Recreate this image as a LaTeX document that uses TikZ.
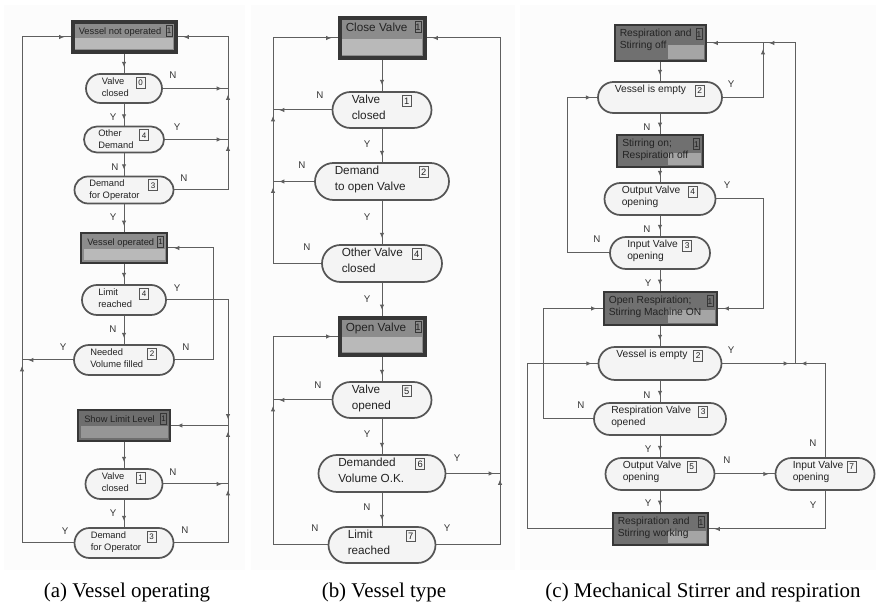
\documentclass[tikz,border=0pt]{standalone}
\usepackage{fontspec}
\setmainfont{Liberation Serif}
\setsansfont{Liberation Sans}
\usetikzlibrary{shapes.misc,arrows.meta,decorations.markings}

\definecolor{trfill}{RGB}{244,244,244}
\definecolor{trdraw}{RGB}{85,85,85}
\definecolor{lncol}{RGB}{95,95,95}
\definecolor{txtcol}{RGB}{35,35,35}
\definecolor{lblcol}{RGB}{55,55,55}
\definecolor{stborder}{RGB}{55,55,55}
\definecolor{sttop}{RGB}{140,140,140}
\definecolor{stlow}{RGB}{185,185,185}
\definecolor{sddark}{RGB}{110,110,110}
\definecolor{sdlow}{RGB}{150,150,150}
\definecolor{ctop}{RGB}{112,112,112}
\definecolor{clow}{RGB}{165,165,165}
\definecolor{panelbg}{RGB}{252,252,252}

\newcommand\panelfonta{\fontsize{7}{9}\selectfont}
\newcommand\panelfontb{\fontsize{8.8}{11.6}\selectfont}
\newcommand\panelfontc{\fontsize{7.7}{9}\selectfont}
\newcommand\panelnuma{\fontsize{6}{6}\selectfont}
\newcommand\panelnumb{\fontsize{7}{7}\selectfont}
\newcommand\panelnumc{\fontsize{6.3}{6.3}\selectfont}

\tikzset{
  trshape/.style={rounded rectangle, draw=trdraw, line width=1.3pt, fill=trfill, inner sep=0pt},
  txt/.style={inner sep=0pt, align=left, text=txtcol},
  numbox/.style={draw=trdraw, line width=0.6pt, inner sep=0pt, minimum width=6.6pt, minimum height=8.2pt, text=txtcol},
  stnum/.style={draw=stborder, line width=0.6pt, inner sep=0pt, minimum width=4.6pt, minimum height=8.6pt, text=txtcol},
  stthick/.style={rectangle, draw=stborder, line width=3pt, fill=sttop, inner sep=0pt},
  stthicklow/.style={fill=stlow},
  stthin/.style={rectangle, draw=stborder, line width=1.5pt, fill=sttop, inner sep=0pt},
  stthinlow/.style={fill=stlow},
  stdk/.style={rectangle, draw=stborder, line width=1.5pt, fill=sddark, inner sep=0pt},
  stdklow/.style={fill=sdlow},
  stcbox/.style={rectangle, draw=stborder, line width=1.5pt, fill=ctop, inner sep=0pt},
  conn/.style={draw=lncol, line width=0.75pt},
  arr/.style={conn, postaction={decorate}, decoration={markings,
      mark=at position -4.5pt with {\arrow[lncol]{Latex[length=4pt,width=3.4pt]}}}},
  lbl/.style={font=\sffamily\fontsize{7.3}{8}\selectfont, text=lblcol, inner sep=0pt},
  captxt/.style={font=\fontsize{15.7}{18}\selectfont, text=black, inner sep=0pt, anchor=base},
}

% transition: name x y w h panel text num
\newcommand\trn[8]{%
  \node[trshape, minimum width={#4*0.75pt}, minimum height={#5*0.75pt}] (#1) at (#2,#3) {};
  \node[txt, font={\sffamily\csname panelfont#6\endcsname}, anchor=north west] (#1t) at ({#2-#4/2+#5/2+1},{#3-#5/2+3}) {#7};
  \node[numbox, font={\sffamily\csname panelnum#6\endcsname}, anchor=north east] (#1n) at ({#2+#4/2-#5/2-2},{#3-#5/2+3}) {#8};
}
% state (a,b): name x y w h panel style text num
\newcommand\stab[9]{%
  \node[#7, minimum width={#4*0.75pt}, minimum height={#5*0.75pt}] (#1) at (#2,#3) {};
  \fill[#7low] ({#2-#4/2+2.5},{#3+1}) rectangle ({#2+#4/2-2.5},{#3+#5/2-2.5});
  \node[txt, font={\sffamily\csname panelfont#6\endcsname}, anchor=north west] (#1t) at ({#2-#4/2+6},{#3-#5/2+5}) {#8};
  \node[stnum, font={\sffamily\csname panelnum#6\endcsname}, anchor=north east] (#1n) at ({#2+#4/2-3},{#3-#5/2+3}) {#9};
}
% state (c): name x y w h text num
\newcommand\stc[7]{%
  \node[stcbox, minimum width={#4*0.75pt}, minimum height={#5*0.75pt}] (#1) at (#2,#3) {};
  \fill[clow] ({#2+8},{#3+2}) rectangle ({#2+#4/2-2},{#3+#5/2-2});
  \node[txt, font={\sffamily\panelfontc}, anchor=north west] (#1t) at ({#2-#4/2+5},{#3-#5/2+4}) {#6};
  \node[stnum, font={\sffamily\panelnumc}, anchor=north east] (#1n) at ({#2+#4/2-3},{#3-#5/2+3}) {#7};
}

\begin{document}
\begin{tikzpicture}[x=0.75pt,y=-0.75pt]
\useasboundingbox (0,0) rectangle (876,605);
\fill[panelbg] (4,5) rectangle (245,570);
\fill[panelbg] (251,5) rectangle (515,570);
\fill[panelbg] (520,5) rectangle (876,570);

% ---------------- panel (a) ----------------
\stab{A1}{124}{37}{103}{30}{a}{stthick}{Vessel not operated}{1}
\trn{A2}{124}{88.5}{76}{29}{a}{Valve\\closed}{0}
\trn{A3}{124}{139.5}{80}{26}{a}{Other\\Demand}{4}
\trn{A4}{124}{190}{99}{27}{a}{Demand\\for Operator}{3}
\stab{A5}{124}{248}{86}{30}{a}{stthin}{Vessel operated}{1}
\trn{A6}{124}{300}{84}{30}{a}{Limit\\reached}{4}
\trn{A7}{124}{360}{100}{30}{a}{Needed\\Volume filled}{2}
\stab{A8}{124}{425.5}{92}{31}{a}{stdk}{Show Limit Level}{1}
\trn{A9}{124}{484}{77}{30}{a}{Valve\\closed}{1}
\trn{A10}{124}{543}{99}{30}{a}{Demand\\for Operator}{3}

\coordinate (aR) at (228,0);
\coordinate (aL) at (22,0);
\coordinate (aM) at (213,0);

\draw[arr] (A1.south) -- (A2.north);
\draw[arr] (A2.south) -- (A3.north);
\draw[arr] (A3.south) -- (A4.north);
\draw[arr] (A4.south) -- (A5.north);
\draw[arr] (A5.south) -- (A6.north);
\draw[arr] (A6.south) -- (A7.north);
\draw[arr] (A8.south) -- (A9.north);
\draw[arr] (A9.south) -- (A10.north);

\draw[arr] (A2.east) -- (A2.east -| aR);
\draw[arr] (A3.east) -- (A3.east -| aR);
\draw[conn] (A4.east) -- (A4.east -| aR);
\draw[arr] (A4.east -| aR) -- (A3.east -| aR);
\draw[arr] (A3.east -| aR) -- (A2.east -| aR);
\draw[arr] (A2.east -| aR) |- (A1.east);

\draw[conn] (A10.west) -- (A10.west -| aL);
\draw[arr] (A10.west -| aL) -- (A7.west -| aL);
\draw[arr] (A7.west) -- (A7.west -| aL);
\draw[arr] (A7.west -| aL) |- (A1.west);

\draw[arr] (A7.east) -- (A7.east -| aM) |- (A5.east);

\coordinate (aJ) at (A8.east -| aR);
\draw[arr] (A6.east) -| (aJ);
\draw[conn] (A10.east) -- (A10.east -| aR);
\draw[arr] (A10.east -| aR) -- (A9.east -| aR);
\draw[arr] (A9.east) -- (A9.east -| aR);
\draw[arr] (A9.east -| aR) -- (aJ);
\draw[arr] (aJ) -- (A8.east);

\node[lbl] (la1) at (173,75) {N};
\node[lbl] (la2) at (113,117) {Y};
\node[lbl] (la3) at (177,127) {Y};
\node[lbl] (la4) at (115,167) {N};
\node[lbl] (la5) at (184,178) {N};
\node[lbl] (la6) at (113,217) {Y};
\node[lbl] (la7) at (177,288) {Y};
\node[lbl] (la8) at (113,329) {N};
\node[lbl] (la9) at (63,347) {Y};
\node[lbl] (la10) at (186,347) {N};
\node[lbl] (la11) at (173,472) {N};
\node[lbl] (la12) at (113,513) {Y};
\node[lbl] (la13) at (65,531) {Y};
\node[lbl] (la14) at (185,530) {N};

% ---------------- panel (b) ----------------
\stab{B1}{382}{38}{85}{40}{b}{stthick}{Close Valve}{1}
\trn{B2}{382}{110}{99}{36}{b}{Valve\\closed}{1}
\trn{B3}{382}{181.5}{134}{37}{b}{Demand\\to open Valve}{2}
\trn{B4}{382}{263.5}{120}{37}{b}{Other Valve\\closed}{4}
\stab{B5}{382}{336.5}{85}{37}{b}{stthick}{Open Valve}{1}
\trn{B6}{382}{400}{99}{36}{b}{Valve\\opened}{5}
\trn{B7}{382}{473.5}{127}{37}{b}{Demanded\\Volume O.K.}{6}
\trn{B8}{382}{545}{107}{36}{b}{Limit\\reached}{7}

\coordinate (bL) at (273,0);
\coordinate (bR) at (500,0);

\draw[arr] (B1.south) -- (B2.north);
\draw[arr] (B2.south) -- (B3.north);
\draw[arr] (B3.south) -- (B4.north);
\draw[arr] (B4.south) -- (B5.north);
\draw[arr] (B5.south) -- (B6.north);
\draw[arr] (B6.south) -- (B7.north);
\draw[arr] (B7.south) -- (B8.north);

\draw[conn] (B4.west) -- (B4.west -| bL);
\draw[arr] (B4.west -| bL) -- (B3.west -| bL);
\draw[arr] (B3.west) -- (B3.west -| bL);
\draw[arr] (B3.west -| bL) -- (B2.west -| bL);
\draw[arr] (B2.west) -- (B2.west -| bL);
\draw[arr] (B2.west -| bL) |- (B1.west);

\draw[conn] (B8.west) -- (B8.west -| bL);
\draw[arr] (B8.west -| bL) -- (B6.west -| bL);
\draw[arr] (B6.west) -- (B6.west -| bL);
\draw[arr] (B6.west -| bL) |- (B5.west);

\draw[conn] (B8.east) -- (B8.east -| bR);
\draw[arr] (B8.east -| bR) -- (B7.east -| bR);
\draw[arr] (B7.east) -- (B7.east -| bR);
\draw[arr] (B7.east -| bR) |- (B1.east);

\node[lbl] (lb1) at (320,95) {N};
\node[lbl] (lb2) at (367,144) {Y};
\node[lbl] (lb3) at (302,165) {N};
\node[lbl] (lb4) at (367,217) {Y};
\node[lbl] (lb5) at (307,247) {N};
\node[lbl] (lb6) at (367,299) {Y};
\node[lbl] (lb7) at (318,385) {N};
\node[lbl] (lb8) at (367,434) {Y};
\node[lbl] (lb9) at (457,458) {Y};
\node[lbl] (lb10) at (367,507) {N};
\node[lbl] (lb11) at (315,528) {N};
\node[lbl] (lb12) at (447,528) {Y};

% ---------------- panel (c) ----------------
\stc{C1}{660}{43}{91}{36}{Respiration and\\Stirring off}{1}
\trn{C2}{660}{97.5}{124}{31}{c}{Vessel is empty}{2}
\stc{C3}{660}{151}{86}{32}{Stirring on;\\Respiration off}{1}
\trn{C4}{660}{199}{111}{32}{c}{Output Valve\\opening}{4}
\trn{C5}{660}{253}{100}{32}{c}{Input Valve\\opening}{3}
\stc{C6}{660}{308.5}{113}{33}{Open Respiration;\\Stirring Machine ON}{1}
\trn{C7}{660}{363.5}{123}{33}{c}{Vessel is empty}{2}
\trn{C8}{660}{419}{132}{32}{c}{Respiration Valve\\opened}{3}
\trn{C9}{660}{474}{109}{32}{c}{Output Valve\\opening}{5}
\trn{C10}{825}{474}{99}{32}{c}{Input Valve\\opening}{7}
\stc{C11}{660}{529}{95}{32}{Respiration and\\Stirring working}{1}

\coordinate (cA) at (527,0);
\coordinate (cB) at (543,0);
\coordinate (cC) at (567,0);
\coordinate (cD) at (763,0);
\coordinate (cE) at (795,0);

\draw[arr] (C1.south) -- (C2.north);
\draw[arr] (C2.south) -- (C3.north);
\draw[arr] (C3.south) -- (C4.north);
\draw[arr] (C4.south) -- (C5.north);
\draw[arr] (C5.south) -- (C6.north);
\draw[arr] (C6.south) -- (C7.north);
\draw[arr] (C7.south) -- (C8.north);
\draw[arr] (C8.south) -- (C9.north);
\draw[arr] (C9.south) -- (C11.north);

\coordinate (cTop) at (C1.east -| cD);
\coordinate (cJ) at (C7.east -| cE);
\draw[arr] (C2.east) -| (cTop);
\draw[arr] (cJ) |- (cTop);
\draw[arr] (cTop) -- (C1.east);
\draw[arr] (C7.east) -- (cJ);
\draw[arr] (C10.north) |- (cJ);
\draw[arr] (C5.west) -- (C5.west -| cC) |- (C2.west);
\draw[arr] (C4.east) -- (C4.east -| cD) |- (C6.east);
\draw[arr] (C8.west) -- (C8.west -| cB) |- (C6.west);
\draw[arr] (C11.west) -- (C11.west -| cA) |- (C7.west);
\draw[arr] (C9.east) -- (C10.west);
\draw[arr] (C10.south) |- (C11.east);

\node[lbl] (lc1) at (731,84) {Y};
\node[lbl] (lc2) at (647,127) {N};
\node[lbl] (lc3) at (727,185) {Y};
\node[lbl] (lc4) at (647,229) {N};
\node[lbl] (lc5) at (597,239) {N};
\node[lbl] (lc6) at (648,283) {Y};
\node[lbl] (lc7) at (731,350) {Y};
\node[lbl] (lc8) at (647,395) {N};
\node[lbl] (lc9) at (581,405) {N};
\node[lbl] (lc10) at (648,449) {Y};
\node[lbl] (lc11) at (727,460) {N};
\node[lbl] (lc12) at (813,443) {N};
\node[lbl] (lc13) at (648,503) {Y};
\node[lbl] (lc14) at (813,505) {Y};

% ---------------- captions ----------------
\node[captxt] (capa) at (127,598) {(a) Vessel operating};
\node[captxt] (capb) at (384,598) {(b) Vessel type};
\node[captxt] (capc) at (703,598) {(c) Mechanical Stirrer and respiration};
\end{tikzpicture}
\end{document}
